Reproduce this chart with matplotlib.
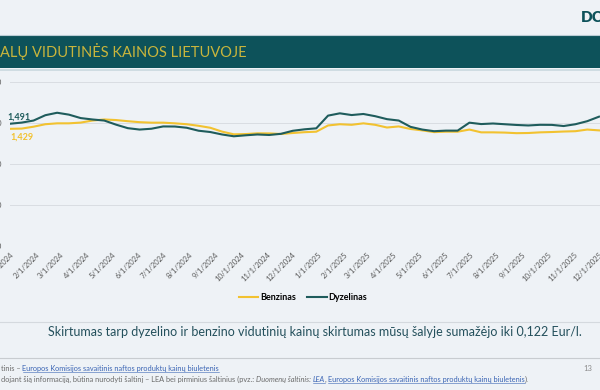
import datetime as dt
import matplotlib
matplotlib.use("Agg")
import matplotlib.pyplot as plt
import matplotlib.dates as mdates
from matplotlib.patches import Rectangle
from matplotlib.lines import Line2D
from matplotlib.ticker import FuncFormatter, MultipleLocator

plt.rcParams['font.family'] = ['Lato', 'DejaVu Sans']

# biweekly readings, starting 2024-01-01 (Eur/l)
start = dt.date(2024, 1, 1)
dates = [start + dt.timedelta(days=14 * i) for i in range(51)]

benzinas = [1.429, 1.432, 1.455, 1.485, 1.496, 1.496, 1.505, 1.530, 1.543, 1.536,
            1.522, 1.510, 1.504, 1.504, 1.496, 1.485, 1.466, 1.442, 1.395, 1.362,
            1.365, 1.374, 1.373, 1.366, 1.378, 1.388, 1.394, 1.470, 1.485, 1.478,
            1.496, 1.478, 1.445, 1.458, 1.427, 1.410, 1.389, 1.394, 1.394, 1.420,
            1.386, 1.386, 1.383, 1.376, 1.378, 1.386, 1.390, 1.396, 1.400, 1.420,
            1.410]
dyzelinas = [1.491, 1.505, 1.530, 1.595, 1.625, 1.602, 1.560, 1.543, 1.530, 1.480,
             1.437, 1.420, 1.430, 1.458, 1.457, 1.442, 1.406, 1.390, 1.360, 1.338,
             1.350, 1.360, 1.354, 1.368, 1.405, 1.423, 1.435, 1.590, 1.618, 1.597,
             1.610, 1.583, 1.547, 1.530, 1.453, 1.420, 1.400, 1.407, 1.407, 1.504,
             1.487, 1.494, 1.485, 1.476, 1.470, 1.478, 1.477, 1.463, 1.485, 1.522,
             1.577]

title = "ALŲ VIDUTINĖS KAINOS LIETUVOJE"
summary = ("Skirtumas tarp dyzelino ir benzino vidutinių kainų skirtumas "
           "mūsų šalyje sumažėjo iki 0,122 Eur/l.")

W, H = 600, 390
BG = "#eef2f6"
TEAL = "#0d525a"
YELLOW = "#f2c230"
DIESEL = "#1f5c5c"


def fy(py):
    return 1 - py / H


fig = plt.figure(figsize=(6, 3.9), dpi=100, facecolor=BG)

# header band
fig.add_artist(Rectangle((0, fy(68)), 1, 33 / H, transform=fig.transFigure,
                         facecolor=TEAL, edgecolor="none"))
fig.add_artist(Line2D([0, 1], [fy(34.5)] * 2, transform=fig.transFigure,
                      color="#b9ccd4", lw=0.8))
fig.add_artist(Line2D([0, 1], [fy(70)] * 2, transform=fig.transFigure,
                      color="#c9d8df", lw=1.2))
fig.text(0, fy(52), title, color="#c9b53c", fontsize=10.5, va="center", ha="left")
fig.text(1.005, fy(17), "DC", color=TEAL, fontsize=11, fontweight="heavy",
         va="center", ha="right")

# chart
ax = fig.add_axes([10 / W, fy(246), 590 / W, (246 - 82) / H])
ax.set_facecolor(BG)
ax.plot(dates, benzinas, color=YELLOW, lw=1.5, label="Benzinas")
ax.plot(dates, dyzelinas, color=DIESEL, lw=1.5, label="Dyzelinas")

ax.set_ylim(0, 2)
ax.set_xlim(mdates.date2num(start), mdates.date2num(start) + 701.2)
ax.yaxis.set_major_locator(MultipleLocator(0.5))
ax.yaxis.set_major_formatter(FuncFormatter(lambda v, p: f"{v:.3f}".replace(".", ",")))
ax.xaxis.set_major_locator(mdates.MonthLocator())
ax.xaxis.set_major_formatter(FuncFormatter(
    lambda v, p: "{d.month}/{d.day}/{d.year}".format(d=mdates.num2date(v))))
ax.grid(axis="y", color="#d9dde2", lw=0.7)
for s in ax.spines.values():
    s.set_visible(False)
ax.tick_params(length=0, labelsize=5.5, labelcolor="#595959")
ax.tick_params(axis="y", pad=6)
for lab in ax.get_xticklabels():
    lab.set_rotation(45)
    lab.set_ha("right")
    lab.set_rotation_mode("anchor")

ax.annotate(f"{dyzelinas[0]:.3f}".replace(".", ","), xy=(dates[0], dyzelinas[0]),
            xytext=(-2, 5), textcoords="offset points", color=DIESEL,
            fontsize=6.5, fontweight="bold", va="center", ha="left")
ax.annotate(f"{benzinas[0]:.3f}".replace(".", ","), xy=(dates[0], benzinas[0]),
            xytext=(0, -6), textcoords="offset points", color=YELLOW,
            fontsize=6.5, fontweight="bold", va="center", ha="left")

fig.legend(loc="center", bbox_to_anchor=(0.505, fy(298)), ncol=2, frameon=False,
           prop={"weight": "bold", "size": 6.5},
           handlelength=2.2, columnspacing=1.2, handletextpad=0.2)

fig.add_artist(Line2D([0, 1], [fy(321.5)] * 2, transform=fig.transFigure,
                      color="#d4d9de", lw=0.8))

fig.text(0.525, fy(332), summary, color="#24505c", fontsize=9,
         ha="center", va="center")

fig.add_artist(Line2D([0, 1], [fy(358)] * 2, transform=fig.transFigure,
                      color="#c8ccd0", lw=0.8))

# footnotes, assembled from styled pieces
GREY = "#6b6b6b"
LINK = "#3a64b4"
pieces_1 = [("tinis – ", GREY, "normal", False),
            ("Europos Komisijos savaitinis naftos produktų kainų biuletenis", LINK, "normal", True)]
pieces_2 = [("dojant šią informaciją, būtina nurodyti šaltinį – LEA bei pirminius šaltinius (pvz.: ", GREY, "normal", False),
            ("Duomenų šaltinis: ", GREY, "italic", False),
            ("LEA", LINK, "italic", True),
            (", ", GREY, "normal", False),
            ("Europos Komisijos savaitinis naftos produktų kainų biuletenis", LINK, "normal", True),
            (").", GREY, "normal", False)]

fig.canvas.draw()
renderer = fig.canvas.get_renderer()
for pieces, py in [(pieces_1, 371), (pieces_2, 382)]:
    x = 1.0
    for txt, col, style, under in pieces:
        t = fig.text(x / W, fy(py), txt, color=col, fontsize=5.3, style=style,
                     va="baseline", ha="left")
        bb = t.get_window_extent(renderer)
        if under:
            fig.add_artist(Line2D([x / W, (x + bb.width) / W], [fy(py + 1.2)] * 2,
                                  transform=fig.transFigure, color=col, lw=0.4))
        x += bb.width

fig.text(592 / W, fy(371), "13", color="#8a8a8a", fontsize=5.5, va="baseline", ha="right")

fig.savefig("out.png", dpi=100, facecolor=BG)
